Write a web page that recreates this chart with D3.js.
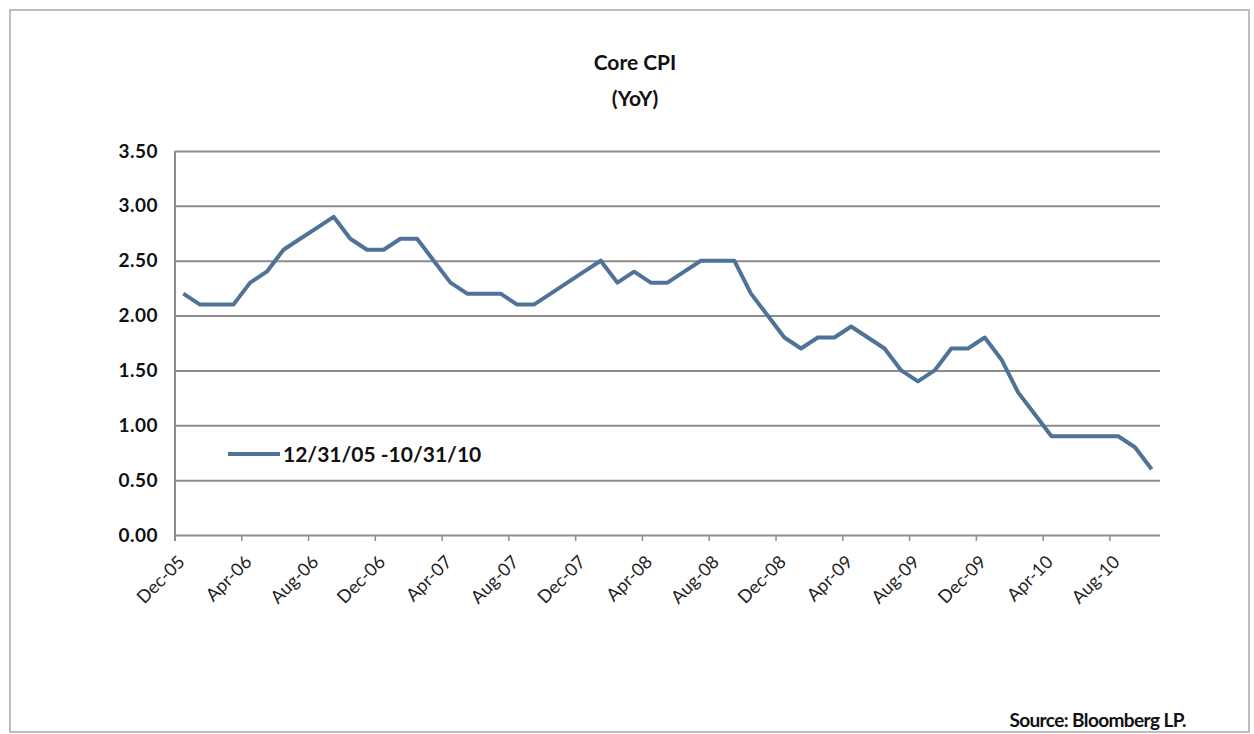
<!DOCTYPE html>
<html>
<head>
<meta charset="utf-8">
<script src="https://cdn.jsdelivr.net/npm/d3@7"></script>
<style>
  body { margin: 0; background: #fff; }
  .chart-svg text { font-family: Lato, "Open Sans", sans-serif; fill: #111; }
  .chart-yaxis text { font-weight: bold; font-size: 19px; letter-spacing: 0.5px; }
  .chart-xaxis text { font-size: 18px; fill: #222; }
</style>
</head>
<body>
<div id="chart"></div>
<script>
const width = 1254;
const height = 734;
const margin = {top: 151, right: 94, bottom: 199, left: 175};
const lineColor = "#4f7299";
const gridColor = "#8c8c8c";

// monthly core CPI YoY, Dec-05 .. Oct-10
const months = [
  "Dec-05",
  "Jan-06", "Feb-06", "Mar-06", "Apr-06", "May-06", "Jun-06", "Jul-06", "Aug-06", "Sep-06", "Oct-06", "Nov-06", "Dec-06",
  "Jan-07", "Feb-07", "Mar-07", "Apr-07", "May-07", "Jun-07", "Jul-07", "Aug-07", "Sep-07", "Oct-07", "Nov-07", "Dec-07",
  "Jan-08", "Feb-08", "Mar-08", "Apr-08", "May-08", "Jun-08", "Jul-08", "Aug-08", "Sep-08", "Oct-08", "Nov-08", "Dec-08",
  "Jan-09", "Feb-09", "Mar-09", "Apr-09", "May-09", "Jun-09", "Jul-09", "Aug-09", "Sep-09", "Oct-09", "Nov-09", "Dec-09",
  "Jan-10", "Feb-10", "Mar-10", "Apr-10", "May-10", "Jun-10", "Jul-10", "Aug-10", "Sep-10", "Oct-10"
];
const coreCpi = [
  2.2,
  2.1, 2.1, 2.1, 2.3, 2.4, 2.6, 2.7, 2.8, 2.9, 2.7, 2.6, 2.6,
  2.7, 2.7, 2.5, 2.3, 2.2, 2.2, 2.2, 2.1, 2.1, 2.2, 2.3, 2.4,
  2.5, 2.3, 2.4, 2.3, 2.3, 2.4, 2.5, 2.5, 2.5, 2.2, 2.0, 1.8,
  1.7, 1.8, 1.8, 1.9, 1.8, 1.7, 1.5, 1.4, 1.5, 1.7, 1.7, 1.8,
  1.6, 1.3, 1.1, 0.9, 0.9, 0.9, 0.9, 0.9, 0.8, 0.6
];
const yTicks = [0, 0.5, 1, 1.5, 2, 2.5, 3, 3.5];
const xTickLabels = ["Dec-05", "Apr-06", "Aug-06", "Dec-06", "Apr-07", "Aug-07", "Dec-07", "Apr-08",
  "Aug-08", "Dec-08", "Apr-09", "Aug-09", "Dec-09", "Apr-10", "Aug-10"];
const titleLines = ["Core CPI", "(YoY)"];
const legendLabel = "12/31/05 -10/31/10";
const sourceLabel = "Source: Bloomberg LP.";

const data = months.map((m, i) => ({m, v: coreCpi[i]}));

const x = d3.scaleBand()
  .domain(months)
  .range([margin.left, width - margin.right]);

const y = d3.scaleLinear()
  .domain([0, 3.5])
  .range([height - margin.bottom, margin.top]);

const svg = d3.select("#chart")
  .append("svg")
  .attr("class", "chart-svg")
  .attr("width", width)
  .attr("height", height);

// chart frame
svg.append("rect")
  .attr("x", 10).attr("y", 10)
  .attr("width", 1239).attr("height", 722)
  .attr("fill", "#fff")
  .attr("stroke", "#bdbdbd")
  .attr("stroke-width", 2);

// title
svg.append("text")
  .attr("x", 635).attr("y", 70)
  .attr("text-anchor", "middle")
  .style("font-weight", "bold").style("font-size", "21px")
  .selectAll("tspan")
  .data(titleLines)
  .join("tspan")
  .attr("x", 635)
  .attr("dy", (d, i) => i === 0 ? 0 : 36)
  .text(d => d);

// y grid + labels
const yAxis = g => g
  .attr("transform", `translate(${margin.left},0)`)
  .attr("class", "chart-yaxis")
  .call(d3.axisLeft(y).tickValues(yTicks).tickSize(0).tickPadding(17).tickFormat(d3.format(".2f")))
  .call(g => g.select(".domain").remove())
  .call(g => g.selectAll(".tick line").clone()
    .attr("x2", width - margin.left - margin.right)
    .attr("stroke", gridColor)
    .attr("stroke-width", 2));

svg.append("g").call(yAxis);

// vertical axis line
svg.append("line")
  .attr("x1", margin.left).attr("x2", margin.left)
  .attr("y1", y(3.5)).attr("y2", y(0) + 6)
  .attr("stroke", gridColor).attr("stroke-width", 2);

// x axis: ticks at the start of each month band
const xAxis = g => g
  .attr("transform", `translate(${-x.bandwidth() / 2},${y(0)})`)
  .attr("class", "chart-xaxis")
  .call(d3.axisBottom(x).tickValues(xTickLabels).tickSize(6).tickSizeOuter(0))
  .call(g => g.select(".domain").remove())
  .call(g => g.selectAll(".tick line").attr("stroke", gridColor).attr("stroke-width", 1.5))
  .call(g => g.selectAll(".tick text")
    .attr("text-anchor", "end")
    .attr("y", 0)
    .attr("dy", 0)
    .attr("transform", "translate(11,28) rotate(-45)"));

svg.append("g").call(xAxis);

// the series
const line = d3.line()
  .x(d => x(d.m) + x.bandwidth() / 2)
  .y(d => y(d.v));

svg.append("path")
  .datum(data)
  .attr("fill", "none")
  .attr("stroke", lineColor)
  .attr("stroke-width", 4)
  .attr("stroke-linejoin", "round")
  .attr("d", line);

// legend
const legend = svg.append("g").attr("transform", "translate(228,454)");
legend.append("line")
  .attr("x1", 0).attr("x2", 52)
  .attr("stroke", lineColor).attr("stroke-width", 4);
legend.append("text")
  .attr("x", 55).attr("y", 8)
  .style("font-weight", "bold").style("font-size", "21px")
  .text(legendLabel);

// source
svg.append("text")
  .attr("x", 1186).attr("y", 727)
  .attr("text-anchor", "end")
  .style("font-weight", "bold").style("font-size", "19px")
  .style("letter-spacing", "-0.6px")
  .text(sourceLabel);
</script>
</body>
</html>
